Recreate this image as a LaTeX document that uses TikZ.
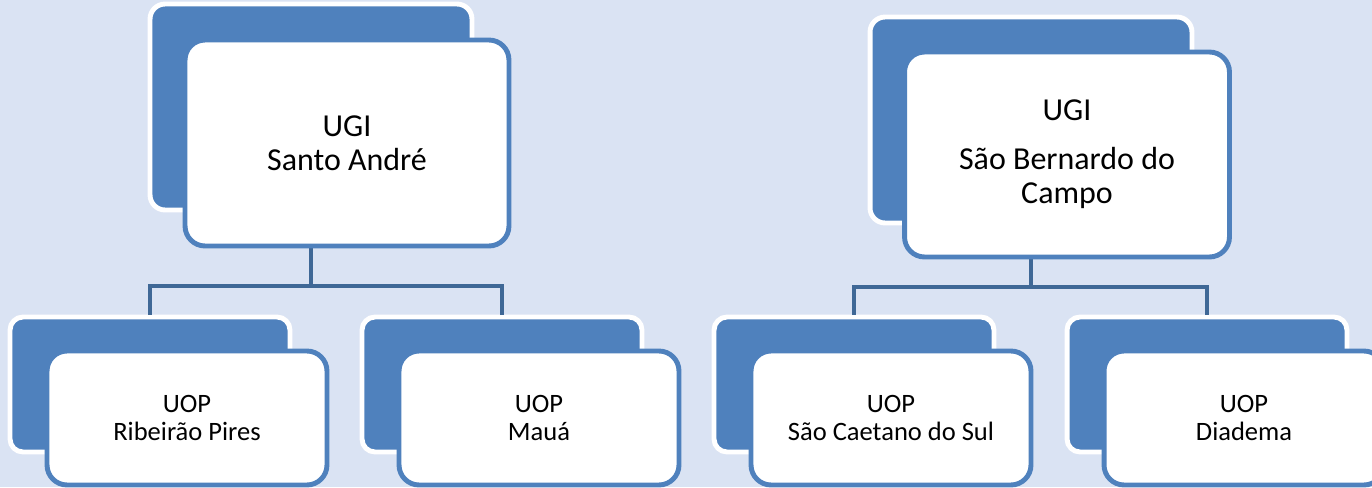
\documentclass[tikz,border=0pt]{standalone}
\usepackage{fontspec}
\setmainfont{Carlito}
\usepackage{tikz}
\definecolor{bgblue}{HTML}{DAE3F3}
\definecolor{boxblue}{HTML}{4F81BD}
\definecolor{linkblue}{HTML}{3F6896}
\tikzset{
    backbox/.style={
        rectangle, rounded corners=0.3cm, draw=white, fill=boxblue,
        line width=2.8pt, inner sep=0pt, outer sep=0pt
    },
    frontbox/.style={
        rectangle, rounded corners=0.4cm, draw=boxblue, fill=white,
        line width=2.8pt, inner sep=0pt, outer sep=0pt, align=center
    },
    conn/.style={
        draw=linkblue, line width=2.8pt, shorten >=1.4pt
    }
}

\begin{document}
\begin{tikzpicture}[x=0.02cm, y=-0.02cm]
    \useasboundingbox (0,0) rectangle (1372,487);
    \fill[bgblue] (0,0) rectangle (1372,487);
    % Back boxes
    \node[backbox, minimum width=6.44cm, minimum height=4.12cm] (ugiSA-back) at (311,107) {};
    \node[backbox, minimum width=6.44cm, minimum height=4.12cm] (ugiSB-back) at (1031,120) {};
    \foreach \id/\bx in {RP/150, MA/502, SC/854, DI/1207} {
        \node[backbox, rounded corners=0.26cm, minimum width=5.6cm, minimum height=2.7cm]
            (uop\id-back) at (\bx,384.5) {};
    }
    % Connectors
    \draw[conn] (ugiSA-back.south) -- ++(0,76) -| (uopRP-back.north);
    \draw[conn] (ugiSA-back.south) -- ++(0,76) -| (uopMA-back.north);
    \draw[conn] (ugiSB-back.south) -- ++(0,64) -| (uopSC-back.north);
    \draw[conn] (ugiSB-back.south) -- ++(0,64) -| (uopDI-back.north);
    % Front boxes
    \node[frontbox, minimum width=6.48cm, minimum height=4.12cm,
          font=\fontsize{18.2}{19.6}\selectfont] (ugiSA) at (347,143)
          {UGI\\Santo André};
    \node[frontbox, minimum width=6.5cm, minimum height=4.1cm,
          font=\fontsize{18.2}{19.6}\selectfont] (ugiSB) at (1067,154.5)
          {UGI\\[8pt]São Bernardo do\\Campo};
    \node[frontbox, minimum width=5.6cm, minimum height=2.68cm,
          font=\fontsize{15.1}{16}\selectfont] (uopRP) at (187,418)
          {UOP\\Ribeirão Pires};
    \node[frontbox, minimum width=5.6cm, minimum height=2.68cm,
          font=\fontsize{15.1}{16}\selectfont] (uopMA) at (539,418)
          {UOP\\Mauá};
    \node[frontbox, minimum width=5.6cm, minimum height=2.68cm,
          font=\fontsize{15.1}{16}\selectfont] (uopSC) at (891,418)
          {UOP\\São Caetano do Sul};
    \node[frontbox, minimum width=5.6cm, minimum height=2.68cm,
          font=\fontsize{15.1}{16}\selectfont] (uopDI) at (1244,418)
          {UOP\\Diadema};
\end{tikzpicture}
\end{document}
